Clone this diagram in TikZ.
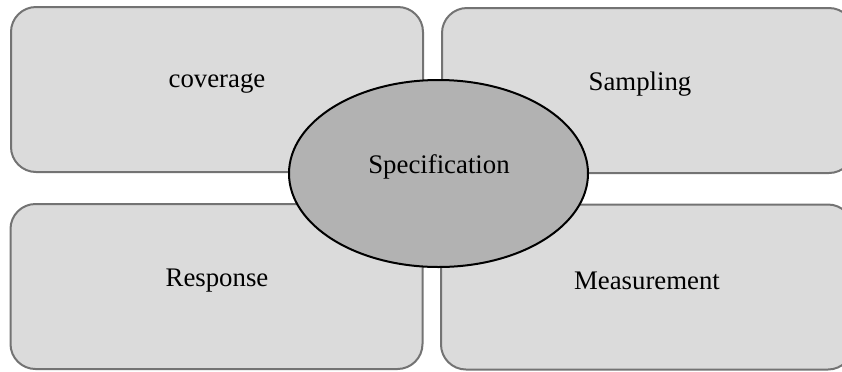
\documentclass[tikz,border=0pt]{standalone}
\usepackage{fontspec}
\setmainfont{Liberation Serif}
\usetikzlibrary{shapes.geometric,positioning}

\begin{document}
\begin{tikzpicture}[
    x=0.5pt, y=-0.5pt,
    part/.style={rectangle, draw=black!55, fill=black!14, line width=1pt,
                 rounded corners=12.5pt, minimum width=206pt,
                 minimum height=82.5pt, inner sep=0pt, outer sep=0pt},
    core/.style={ellipse, draw=black, fill=black!30, line width=1pt,
                 minimum width=149.5pt, minimum height=93.5pt,
                 inner sep=0pt, outer sep=0pt},
    lbl/.style={font=\fontsize{13.4}{16}\selectfont, inner sep=0pt},
  ]

  % picture frame
  \clip (0,0) rectangle (842,371);

  % === Four parts ===
  \node[part] (cov)  at (217, 89.5)  {};
  \node[part] (samp) at (648, 90.5)  {};
  \node[part] (resp) at (216.5, 286.5) {};
  \node[part] (meas) at (647, 287)   {};

  \node[lbl] (covt)  at (217, 84)  {coverage};
  \node[lbl] (sampt) at (640, 84)  {Sampling};
  \node[lbl] (respt) at (217, 281) {Response};
  \node[lbl] (meast) at (647, 281) {Measurement};

  % === Centre ===
  \node[core] (spec) at (438.5, 173.5) {};
  \node[lbl] (spect) at (439, 167) {Specification};

\end{tikzpicture}
\end{document}
